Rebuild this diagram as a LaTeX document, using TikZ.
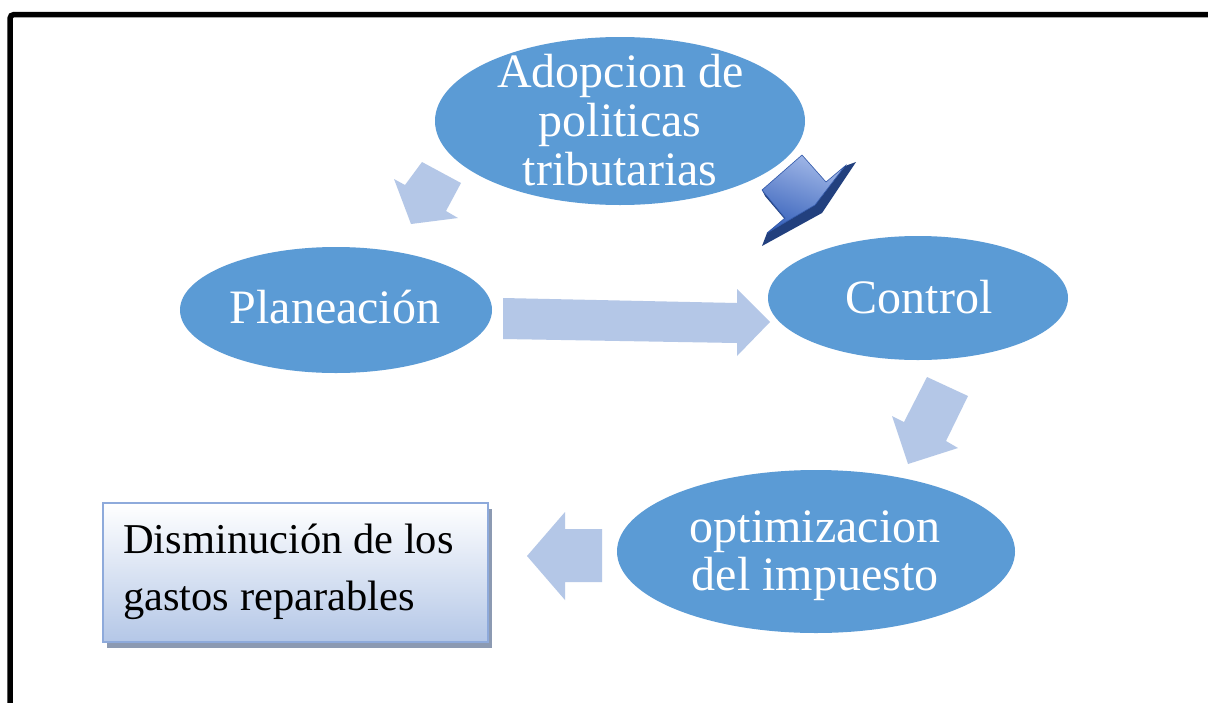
\documentclass[tikz,border=0pt]{standalone}
\usepackage{fontspec}
\setmainfont{Liberation Serif}
\usetikzlibrary{shapes.geometric,shadows}
\definecolor{ellc}{HTML}{5B9BD5}
\definecolor{arrc}{HTML}{B4C7E7}
\definecolor{boxb}{HTML}{B4C7E7}
\definecolor{boxline}{HTML}{8EAADB}
\definecolor{shadc}{HTML}{8C9AB2}
\definecolor{darrtop}{HTML}{A3B9E8}
\definecolor{darrbot}{HTML}{3A64BC}
\definecolor{darrside}{HTML}{22407E}
\definecolor{darredge}{HTML}{2F56A8}
\tikzset{
  ell/.style={ellipse, fill=ellc, inner sep=0pt},
  wt/.style={text=white, inner sep=0pt, font=\fontsize{48}{49}\selectfont},
  bt/.style={text=black, inner sep=0pt, font=\fontsize{42.5}{50}\selectfont},
  blockarrow/.style={fill=arrc},
  disbox/.style={rectangle, inner sep=0pt, draw=boxline, line width=2pt,
    top color=white, bottom color=boxb,
    drop shadow={shadow xshift=4pt, shadow yshift=-6pt, fill=shadc, opacity=1}},
}
\begin{document}
\begin{tikzpicture}[x=1pt,y=-1pt]
\useasboundingbox (0,0) rectangle (1208,702);
\clip (0,0) rectangle (1208,702);
\fill[white] (0,0) rectangle (1208,702);
% frame
\draw[line width=5.5pt, rounded corners=4pt] (10,740) -- (10,14.5) -- (1240,14.5);

% ellipses
\node[ell, minimum width=370pt, minimum height=168pt] (adop) at (620,121) {};
\node[ell, minimum width=312pt, minimum height=126pt] (plan) at (336,310) {};
\node[ell, minimum width=300pt, minimum height=124pt] (ctrl) at (918,298) {};
\node[ell, minimum width=398pt, minimum height=163pt] (opti) at (816,551.5) {};

% ellipse texts
\node[wt, anchor=base] (adop1) at (620.5,87) {Adopcion de};
\node[wt, anchor=base] (adop2) at (620,136) {politicas};
\node[wt, anchor=base] (adop3) at (620,185) {tributarias};
\node[wt, anchor=base] (plan1) at (335,323) {Planeación};
\node[wt, anchor=base] (ctrl1) at (919,313) {Control};
\node[wt, anchor=base] (opti1) at (815,542) {optimizacion};
\node[wt, anchor=base] (opti2) at (815,590) {del impuesto};

% box
\node[disbox, minimum width=385pt, minimum height=139pt] (dism) at (295.5,572.5) {};
\node[bt, anchor=base west] (dism1) at (123,553) {Disminución de los};
\node[bt, anchor=base west] (dism2) at (123,610) {gastos reparables};

% light block arrows
\fill[blockarrow] (422,162) -- (461,183) -- (446,211) -- (458,218) -- (411,224) -- (394,179) -- (405,185) -- cycle;
\fill[blockarrow] (503,298) -- (737,303) -- (737,289) -- (770,322) -- (737,356) -- (737,343) -- (503,339) -- cycle;
\fill[blockarrow] (927,377) -- (968,396) -- (946,441) -- (958,448) -- (908,464) -- (892,416) -- (904,422) -- cycle;
\fill[blockarrow] (602,529) -- (565,529) -- (565,512) -- (527,556) -- (565,600) -- (565,582) -- (602,582) -- cycle;

% 3D arrow (top -> control)
\fill[darrside] (845,166) -- (856,162) -- (822,213) -- (762,246) -- (767,233) -- (815,205) -- cycle;
\fill[darrside] (762,190) -- (765,196) -- (788,223) -- (785,218) -- cycle;
\shade[top color=darrtop, bottom color=darrbot, shading angle=-20, draw=darredge, line width=0.6pt]
  (762,190) -- (802,155) -- (826,182) -- (845,166) -- (815,205) -- (767,233) -- (785,218) -- cycle;
\end{tikzpicture}
\end{document}
